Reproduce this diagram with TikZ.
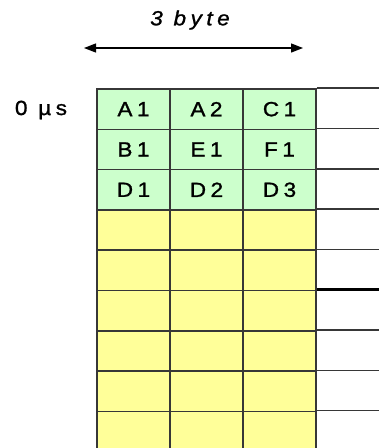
\documentclass[tikz,border=0pt]{standalone}
\usepackage{fontspec}
\setmainfont{Liberation Sans}[FakeStretch=1.1,LetterSpace=22,FakeBold=1.2]
\usepackage{tikz}
\usetikzlibrary{arrows.meta}
\usetikzlibrary{positioning}
\definecolor{slotgreen}{RGB}{204,255,204}
\definecolor{slotyellow}{RGB}{255,255,153}
\definecolor{gridgray}{RGB}{55,55,55}
\tikzstyle{slot}=[rectangle, draw=gridgray, line width=1.6pt, minimum width=73pt, minimum height=40.3pt, inner sep=0pt, font=\fontsize{20.5}{22}\selectfont]
\tikzstyle{slot_used}=[slot, fill=slotgreen]
\tikzstyle{slot_free}=[slot, fill=slotyellow]
\tikzstyle{rowline}=[draw=gridgray, line width=1.6pt]

\begin{document}
\begin{tikzpicture}[x=1pt, y=-1pt]
          \useasboundingbox[fill=white] (0,0) rectangle (379,448);
          \node[font=\fontsize{20.5}{22}\selectfont\itshape] (width) at (190,20){3 byte};
          \coordinate (wl) at (84,48);
          \coordinate (wr) at (303,48);
          \draw[line width=1.3pt, {Triangle[length=12pt,width=9pt]}-{Triangle[length=12pt,width=9pt]}](wl) -- (wr);
          \node[font=\fontsize{20.5}{22}\selectfont] (time) at (41,110){0 µs};
          \node[slot_used] (c11) at (133.5,109.15){A1};
          \node[slot_used] (c12) at (206.5,109.15){A2};
          \node[slot_used] (c13) at (279.5,109.15){C1};
          \node[slot_used] (c21) at (133.5,149.45){B1};
          \node[slot_used] (c22) at (206.5,149.45){E1};
          \node[slot_used] (c23) at (279.5,149.45){F1};
          \node[slot_used] (c31) at (133.5,189.75){D1};
          \node[slot_used] (c32) at (206.5,189.75){D2};
          \node[slot_used] (c33) at (279.5,189.75){D3};
          \node[slot_free] (c41) at (133.5,230.05){};
          \node[slot_free] (c42) at (206.5,230.05){};
          \node[slot_free] (c43) at (279.5,230.05){};
          \node[slot_free] (c51) at (133.5,270.35){};
          \node[slot_free] (c52) at (206.5,270.35){};
          \node[slot_free] (c53) at (279.5,270.35){};
          \node[slot_free] (c61) at (133.5,310.65){};
          \node[slot_free] (c62) at (206.5,310.65){};
          \node[slot_free] (c63) at (279.5,310.65){};
          \node[slot_free] (c71) at (133.5,350.95){};
          \node[slot_free] (c72) at (206.5,350.95){};
          \node[slot_free] (c73) at (279.5,350.95){};
          \node[slot_free] (c81) at (133.5,391.25){};
          \node[slot_free] (c82) at (206.5,391.25){};
          \node[slot_free] (c83) at (279.5,391.25){};
          \node[slot_free] (c91) at (133.5,431.55){};
          \node[slot_free] (c92) at (206.5,431.55){};
          \node[slot_free] (c93) at (279.5,431.55){};
          \coordinate (edge) at (379,0);
          \draw[rowline](c13.north east) -- (c13.north east -| edge);
          \draw[rowline](c23.north east) -- (c23.north east -| edge);
          \draw[rowline](c33.north east) -- (c33.north east -| edge);
          \draw[rowline](c43.north east) -- (c43.north east -| edge);
          \draw[rowline](c53.north east) -- (c53.north east -| edge);
          \draw[rowline, draw=black, line width=3pt](c63.north east) -- (c63.north east -| edge);
          \draw[rowline](c73.north east) -- (c73.north east -| edge);
          \draw[rowline](c83.north east) -- (c83.north east -| edge);
          \draw[rowline](c93.north east) -- (c93.north east -| edge);
        \end{tikzpicture}
\end{document}
